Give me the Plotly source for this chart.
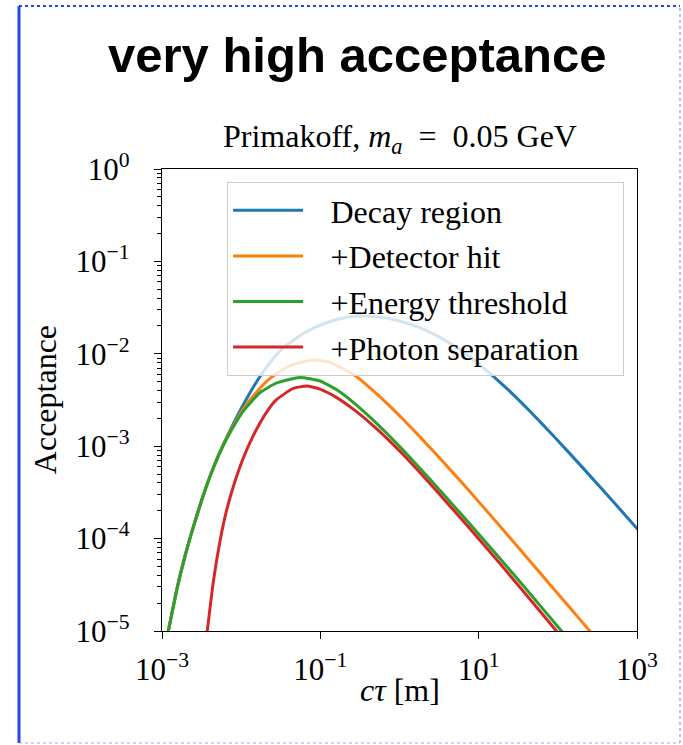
import numpy as np
import plotly.graph_objects as go

# ---- data (log10 values) ----
series_names = ["Decay region", "+Detector hit", "+Energy threshold", "+Photon separation"]
series_colors = ["#1f77b4", "#ff7f0e", "#2ca02c", "#d62728"]

decay_log_ct = [-3.0, -2.920, -2.814, -2.710, -2.605, -2.499, -2.394, -2.289, -2.183, -2.078, -1.914,
                -1.762, -1.636, -1.472, -1.215, -1.004, -0.793, -0.584, -0.373, -0.162, 0.048, 0.259,
                0.470, 0.679, 0.890, 1.101, 1.270, 1.437, 1.648, 1.943, 2.322, 2.743, 3.0, 3.1]
decay_log_acc = [-5.31, -5.0, -4.555, -4.191, -3.876, -3.585, -3.328, -3.105, -2.905, -2.721, -2.459,
                 -2.246, -2.095, -1.939, -1.780, -1.691, -1.628, -1.593, -1.593, -1.614, -1.656, -1.719,
                 -1.803, -1.908, -2.035, -2.183, -2.309, -2.442, -2.622, -2.886, -3.240, -3.642, -3.890, -3.99]

hit_log_ct = [-3.0, -2.920, -2.814, -2.710, -2.605, -2.499, -2.394, -2.289, -2.183, -2.078, -1.973,
              -1.762, -1.636, -1.383, -1.089, -0.878, -0.562, -0.373, -0.162, 0.048, 0.259, 0.470,
              0.849, 1.269, 1.690, 2.112, 2.428, 2.6]
hit_log_acc = [-5.31, -5.0, -4.555, -4.191, -3.876, -3.585, -3.328, -3.105, -2.910, -2.745, -2.595,
               -2.373, -2.266, -2.127, -2.068, -2.093, -2.235, -2.368, -2.533, -2.711, -2.899, -3.093,
               -3.453, -3.865, -4.286, -4.708, -5.024, -5.196]

energy_log_ct = [-3.0, -2.920, -2.814, -2.710, -2.605, -2.499, -2.394, -2.289, -2.183, -2.078, -1.973,
                 -1.762, -1.551, -1.257, -1.004, -0.793, -0.584, -0.373, -0.162, 0.048, 0.385, 0.806,
                 1.269, 1.690, 2.006, 2.2]
energy_log_acc = [-5.31, -5.0, -4.555, -4.191, -3.876, -3.585, -3.328, -3.108, -2.919, -2.759, -2.620,
                  -2.420, -2.315, -2.256, -2.294, -2.389, -2.525, -2.685, -2.860, -3.045, -3.358, -3.762,
                  -4.216, -4.637, -4.959, -5.157]

photon_log_ct = [-2.47, -2.428, -2.352, -2.267, -2.183, -2.078, -1.973, -1.867, -1.762, -1.657, -1.551,
                 -1.342, -1.172, -1.004, -0.793, -0.584, -0.373, -0.162, 0.048, 0.427, 0.849, 1.269,
                 1.690, 1.943, 2.15]
photon_log_acc = [-5.30, -5.0, -4.468, -4.026, -3.690, -3.380, -3.128, -2.921, -2.748, -2.603, -2.494,
                  -2.375, -2.349, -2.383, -2.474, -2.599, -2.747, -2.912, -3.093, -3.445, -3.854, -4.270,
                  -4.699, -4.960, -5.173]

x_tick_vals = [1e-3, 1e-1, 1e1, 1e3]
x_tick_text = ["10<sup>\u22123</sup>", "10<sup>\u22121</sup>", "10<sup>1</sup>", "10<sup>3</sup>"]
y_tick_vals = [1e-5, 1e-4, 1e-3, 1e-2, 1e-1, 1e0]
y_tick_text = ["10<sup>\u22125</sup>", "10<sup>\u22124</sup>", "10<sup>\u22123</sup>",
               "10<sup>\u22122</sup>", "10<sup>\u22121</sup>", "10<sup>0</sup>"]
y_minor_vals = [m * 10.0 ** e for e in range(-5, 0) for m in range(2, 10)]

all_ct = [decay_log_ct, hit_log_ct, energy_log_ct, photon_log_ct]
all_acc = [decay_log_acc, hit_log_acc, energy_log_acc, photon_log_acc]

SERIF = "Liberation Serif"
GAP = "\u2002\u2009"              # space between legend line sample and label
TAIL = "\u2002\u2002\u2009"       # room on the right of the legend box

fig = go.Figure()
for i, (name, col) in enumerate(zip(series_names, series_colors)):
    fig.add_trace(go.Scatter(
        x=10 ** np.array(all_ct[i]), y=10 ** np.array(all_acc[i]),
        mode="lines", name=GAP + name + TAIL, legendgroup=f"g{i}",
        line=dict(color=col, width=3, shape="spline", smoothing=0.5),
    ))

axis_common = dict(
    type="log", showgrid=False, zeroline=False, showline=True, linecolor="black",
    linewidth=1.3, mirror=True, ticks="outside", ticklen=7, tickwidth=1.3, tickcolor="black",
    tickfont=dict(family=SERIF, size=31, color="black"),
)

fig.update_layout(
    width=683, height=745, autosize=False,
    margin=dict(l=162, r=46, t=169, b=114),
    paper_bgcolor="white", plot_bgcolor="white",
    xaxis=dict(range=[-3, 3], tickmode="array", tickvals=x_tick_vals, ticktext=x_tick_text,
               ticklabelstandoff=4, **axis_common),
    yaxis=dict(range=[-5, 0], tickmode="array", tickvals=y_tick_vals, ticktext=y_tick_text,
               ticklabelstandoff=18,
               minor=dict(tickmode="array", tickvals=y_minor_vals, ticks="outside", ticklen=4,
                          tickwidth=1, tickcolor="black", showgrid=False),
               **axis_common),
    showlegend=True,
    legend=dict(x=0.137, y=(631 - 182) / 462.0, xanchor="left", yanchor="top",
                bgcolor="rgba(255,255,255,0.8)", bordercolor="#cccccc", borderwidth=1,
                font=dict(family=SERIF, size=32, color="black"),
                tracegroupgap=1, itemwidth=70),
)

ann = [
    dict(text="<b>very high acceptance</b>", x=(357 - 162) / 475.0, y=1.2468, xref="paper",
         yref="paper", showarrow=False,
         font=dict(family="Liberation Sans", size=49, color="black"),
         xanchor="center", yanchor="middle"),
    dict(text="Primakoff, <i>m</i><sub><i>a</i></sub>\u2002=\u20020.05 GeV", x=0.5, y=1.067,
         xref="paper", yref="paper", showarrow=False,
         font=dict(family=SERIF, size=32, color="black"), xanchor="center", yanchor="middle"),
    dict(text="Acceptance", x=-0.246, y=0.5, xref="paper", yref="paper", showarrow=False,
         textangle=-90, font=dict(family=SERIF, size=32, color="black"),
         xanchor="center", yanchor="middle"),
    dict(text="<i>c\u03c4</i> [m]", x=0.5, y=-0.128, xref="paper", yref="paper", showarrow=False,
         font=dict(family=SERIF, size=32, color="black"), xanchor="center", yanchor="middle"),
]
fig.update_layout(annotations=ann)

# frame around the whole picture
def px_x(p):
    return (p - 162) / 475.0

def px_y(p):
    return (631 - p) / 462.0

L, R, T, B = px_x(19), px_x(680), px_y(6), px_y(743)
fig.add_shape(type="line", xref="paper", yref="paper", x0=L, x1=L, y0=B, y1=T,
              line=dict(color="#2446f0", width=3))
fig.add_shape(type="line", xref="paper", yref="paper", x0=L, x1=R, y0=T, y1=T,
              line=dict(color="#2446f0", width=2, dash="dot"))
fig.add_shape(type="line", xref="paper", yref="paper", x0=R, x1=R, y0=B, y1=T,
              line=dict(color="#6f86f5", width=1, dash="dot"))
fig.add_shape(type="line", xref="paper", yref="paper", x0=L, x1=R, y0=B, y1=B,
              line=dict(color="#9aaaf5", width=1, dash="dot"))

fig.write_html("out.html")
